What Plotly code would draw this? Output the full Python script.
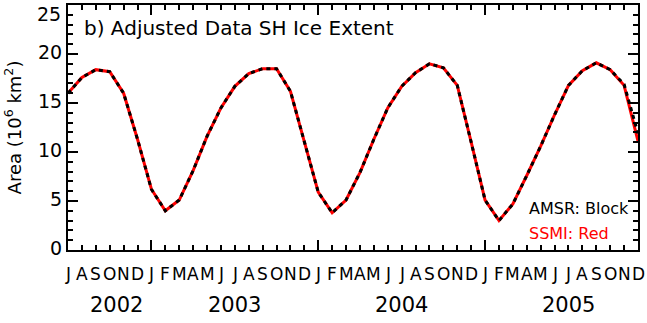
import plotly.graph_objects as go

months = list(range(42))  # Jul 2002 .. Dec 2005
month_letters = list("JASOND") + list("JFMAMJJASOND") * 3
amsr = [16.0, 17.6, 18.4, 18.2, 16.0, 11.3,
        6.2, 4.0, 5.1, 8.1, 11.6, 14.5, 16.7, 18.0, 18.5, 18.5, 16.2, 11.1,
        5.9, 3.8, 5.1, 7.9, 11.3, 14.5, 16.7, 18.1, 19.0, 18.6, 16.8, 11.0,
        5.1, 3.0, 4.7, 7.6, 10.6, 13.8, 16.8, 18.3, 19.1, 18.4, 16.9, 11.9]
ssmi = [16.0, 17.6, 18.4, 18.2, 16.0, 11.3,
        6.2, 4.0, 5.1, 8.1, 11.6, 14.5, 16.7, 18.0, 18.5, 18.5, 16.2, 11.1,
        5.9, 3.8, 5.1, 7.9, 11.3, 14.5, 16.7, 18.1, 19.0, 18.6, 16.8, 11.0,
        5.1, 3.0, 4.7, 7.6, 10.6, 13.8, 16.8, 18.3, 19.1, 18.4, 16.8, 11.1]
years = ["2002", "2003", "2004", "2005"]
year_pos = [3.5, 12, 24, 36]
jan_ticks = [6, 18, 30]
y_ticks = [0, 5, 10, 15, 20, 25]

FONT = "DejaVu Sans"

fig = go.Figure()
fig.add_trace(go.Scatter(x=months, y=ssmi, mode="lines",
                         line=dict(color="#ff0000", width=3), showlegend=False))
fig.add_trace(go.Scatter(x=months, y=amsr, mode="lines",
                         line=dict(color="#000000", width=3, dash="4px,4px"), showlegend=False))

ann = []
for m, l in zip(months, month_letters):
    ann.append(dict(x=m, y=-0.097, xref="x", yref="paper", text=l, showarrow=False,
                    font=dict(family=FONT, size=17, color="black"), xanchor="center", yanchor="middle"))
for p, yr in zip(year_pos, years):
    ann.append(dict(x=p, y=-0.223, xref="x", yref="paper", text=yr, showarrow=False,
                    font=dict(family=FONT, size=21, color="black"), xanchor="center", yanchor="middle"))
# top y tick label (kept inside the page, as in the reference)
ann.append(dict(x=0, y=y_ticks[-1], xref="paper", yref="y", text=str(y_ticks[-1]), showarrow=False,
                font=dict(family=FONT, size=19, color="black"), xanchor="right", yanchor="middle",
                xshift=-5, yshift=-9))
ann.append(dict(x=0.0246, y=0.907, xref="paper", yref="paper", text="b) Adjusted Data SH Ice Extent",
                showarrow=False, font=dict(family=FONT, size=20, color="black"),
                xanchor="left", yanchor="middle"))
ann.append(dict(x=0.805, y=0.171, xref="paper", yref="paper", text="AMSR: Block",
                showarrow=False, font=dict(family=FONT, size=16, color="black"),
                xanchor="left", yanchor="middle"))
ann.append(dict(x=0.805, y=0.069, xref="paper", yref="paper", text="SSMI: Red",
                showarrow=False, font=dict(family=FONT, size=16, color="#ff0000"),
                xanchor="left", yanchor="middle"))

fig.update_layout(
    width=647, height=323,
    margin=dict(l=68, r=9, t=3, b=73),
    paper_bgcolor="white", plot_bgcolor="white",
    annotations=ann,
    font=dict(family=FONT, color="black"),
    xaxis=dict(range=[0, 41], tickvals=jan_ticks, showticklabels=False,
               ticks="inside", ticklen=10, tickwidth=2, tickcolor="black",
               minor=dict(dtick=1, tick0=0, ticks="inside", ticklen=5, tickwidth=2, tickcolor="black"),
               showline=True, linewidth=2, linecolor="black", mirror="ticks",
               showgrid=False, zeroline=False),
    yaxis=dict(range=[0, 25], tickvals=y_ticks[:-1],
               ticks="inside", ticklen=10, tickwidth=2, tickcolor="black",
               minor=dict(dtick=1, ticks="inside", ticklen=5, tickwidth=2, tickcolor="black"),
               showline=True, linewidth=2, linecolor="black", mirror="ticks",
               showgrid=False, zeroline=False, automargin=False,
               ticklabelshift=-2,
               tickfont=dict(family=FONT, size=19, color="black"),
               title=dict(text="Area (10<sup>6</sup> km<sup>2</sup>)", standoff=12,
                          font=dict(family=FONT, size=18, color="black"))),
)

fig.write_html("out.html")
